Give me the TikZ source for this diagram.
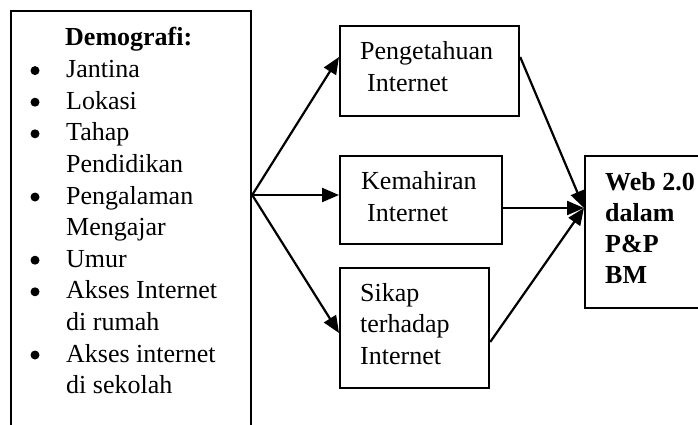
\documentclass[tikz,border=0pt]{standalone}
\usepackage{fontspec}
\setmainfont{Liberation Serif}
\usetikzlibrary{arrows.meta, positioning}

\begin{document}
\begin{tikzpicture}[x=1pt,y=-1pt,>={Triangle[length=17pt,width=14pt]},
        box/.style={draw,line width=2.2pt,anchor=north west,inner sep=0pt},
        txt/.style={anchor=base west,inner sep=0pt,font=\fontsize{26}{31.6}\selectfont},
        bold/.style={txt,font=\fontsize{26}{31.6}\selectfont\bfseries},
        link/.style={->,line width=2.2pt}]

  \useasboundingbox (0,0) rectangle (698,425);
  \clip (0,0) rectangle (698,425);

  % boxes
  \node[box,minimum width=240pt,minimum height=440pt] (demo) at (10,10) {};
  \node[box,minimum width=179pt,minimum height=90pt]  (tahu) at (339,25) {};
  \node[box,minimum width=162pt,minimum height=88pt]  (mahir) at (339,155) {};
  \node[box,minimum width=149pt,minimum height=120pt] (sikap) at (339,267) {};
  \node[box,minimum width=150pt,minimum height=152pt] (web) at (584,155) {};

  % demografi list
  \node[bold] (demotitle) at (65,46) {Demografi:};
  \foreach \t/\b [count=\i] in {Jantina/1, Lokasi/1, Tahap/1, Pendidikan/0,
      Pengalaman/1, Mengajar/0, Umur/1, Akses Internet/1, di rumah/0,
      Akses internet/1, di sekolah/0} {
    \pgfmathsetmacro\yy{46+31.6*\i}
    \node[txt] (item\i) at (66,\yy) {\t};
    \ifnum\b=1 \fill (35,\yy-7) circle (4.5pt); \fi
  }

  % box texts
  \node[txt] (tahu1) at (360,60) {Pengetahuan};
  \node[txt] (tahu2) at (367,92) {Internet};
  \node[txt] (mahir1) at (361,189) {Kemahiran};
  \node[txt] (mahir2) at (367,221) {Internet};
  \node[txt] (sikap1) at (360,301) {Sikap};
  \node[txt] (sikap2) at (360,332) {terhadap};
  \node[txt] (sikap3) at (360,364) {Internet};
  \node[bold] (web1) at (605,190) {Web 2.0};
  \node[bold] (web2) at (605,221) {dalam};
  \node[bold] (web3) at (605,252) {P\&P};
  \node[bold] (web4) at (605,283) {BM};

  % connectors
  \coordinate (fork) at ([yshift=-185pt]demo.north east);
  \coordinate (join) at ([yshift=-53pt]web.north west);
  \path[link] (fork) edge ([yshift=-32pt]tahu.north west)
                     edge ([yshift=-40pt]mahir.north west)
                     edge ([yshift=-66pt]sikap.north west);
  \path[link] ([yshift=-32pt]tahu.north east) edge (join)
              ([yshift=-53pt]mahir.north east) edge (join)
              ([yshift=-75pt]sikap.north east) edge (join);
\end{tikzpicture}
\end{document}
